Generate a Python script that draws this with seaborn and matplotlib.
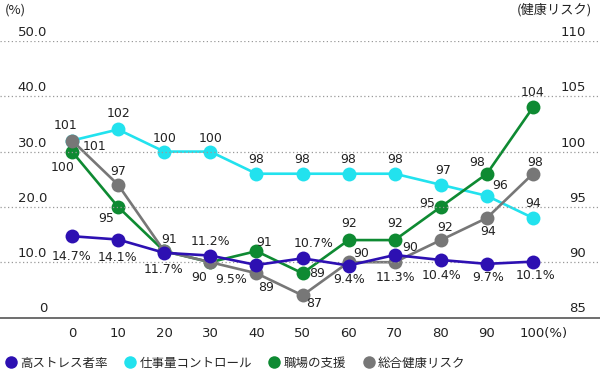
import matplotlib
matplotlib.use("Agg")
import matplotlib.pyplot as plt
import matplotlib.transforms as mtransforms
from matplotlib.lines import Line2D
import seaborn as sns
import pandas as pd

# data
x_vals = [0, 10, 20, 30, 40, 50, 60, 70, 80, 90, 100]
x_labels = ["0", "10", "20", "30", "40", "50", "60", "70", "80", "90", "100(%)"]

high_stress = [14.7, 14.1, 11.7, 11.2, 9.5, 10.7, 9.4, 11.3, 10.4, 9.7, 10.1]
workload = [101, 102, 100, 100, 98, 98, 98, 98, 97, 96, 94]
support = [100, 95, 91, 90, 91, 89, 92, 92, 95, 98, 104]
total_risk = [101, 97, 91, 90, 89, 87, 90, 90, 92, 94, 98]

series_names = ["高ストレス者率", "仕事量コントロール", "職場の支援", "総合健康リスク"]
left_ticks = [0, 10, 20, 30, 40, 50]
right_ticks = [85, 90, 95, 100, 105, 110]

colors = ["#2d10b2", "#22e2ee", "#0e8a32", "#777777"]

# label offsets in pixels (None = label not drawn, shared with another series)
off_stress = [(0, -20), (-1, -18), (-1, -17), (0, 14), (-25, -15), (11, 15),
              (1, -14), (1, -22), (1, -16), (1, -14), (3, -14)]
off_work = [(-6, 15), (0, 16), (0, 13), (0, 13), (0, 14), (0, 14), (0, 14),
            (0, 14), (2, 14), (13, 10), (0, 14)]
off_support = [(-9, -16), (-12, -12), (5, 12), (-11, -15), (8, 9), (15, 0),
               (1, 17), (0, 17), (-14, 3), (-10, 11), (0, 15)]
off_total = [(23, -6), (0, 13), None, None, (10, -14), (12, -8), (13, 9),
             (15, 15), (4, 13), (1, -14), (2, 11)]

sns.set_theme(style="white")
plt.rcParams["font.family"] = ["Noto Sans CJK JP", "DejaVu Sans"]
num_font = ["DejaVu Sans"]
txt_color = "#222222"

fig = plt.figure(figsize=(6.0, 3.73), dpi=100)
ax = fig.add_axes([0.0, 1 - 317.5 / 373, 1.0, (317.5 - 41) / 373])
ax2 = ax.twinx()

df_l = pd.DataFrame({"x": x_vals, "y": high_stress})
df_r = pd.DataFrame({"x": x_vals, "work": workload, "support": support, "total": total_risk})

lw = 1.9
ms = 10
sns.lineplot(data=df_r, x="x", y="work", ax=ax2, color=colors[1], marker="o",
             markersize=ms, markeredgewidth=0, linewidth=lw)
sns.lineplot(data=df_r, x="x", y="support", ax=ax2, color=colors[2], marker="o",
             markersize=ms, markeredgewidth=0, linewidth=lw)
sns.lineplot(data=df_r, x="x", y="total", ax=ax2, color=colors[3], marker="o",
             markersize=ms, markeredgewidth=0, linewidth=lw)
sns.lineplot(data=df_l, x="x", y="y", ax=ax, color=colors[0], marker="o",
             markersize=ms, markeredgewidth=0, linewidth=lw)

# percent axis drawn over the index axis
ax.set_zorder(ax2.get_zorder() + 1)
ax.patch.set_visible(False)

x_left = -72 / 4.61
x_right = (600 - 72) / 4.61
for a in (ax, ax2):
    a.set_xlim(x_left, x_right)
    a.set_xlabel("")
    a.set_ylabel("")
    for s in a.spines.values():
        s.set_visible(False)
ax.set_ylim(0, 50)
ax2.set_ylim(85, 110)

ax.spines["bottom"].set_visible(True)
ax.spines["bottom"].set_color("#555555")
ax.spines["bottom"].set_linewidth(1.2)

# dotted grid lines
for v in left_ticks[1:]:
    ax.axhline(v, color="#999999", linestyle=(0, (1, 2)), linewidth=0.9, zorder=0)

ax.set_yticks([])
ax2.set_yticks([])
ax.set_xticks(x_vals)
ax.set_xticklabels(x_labels, fontsize=9.5, color=txt_color, family=num_font)
ax.tick_params(axis="x", length=0, pad=7)
lbls = ax.get_xticklabels()
lbls[-1].set_transform(lbls[-1].get_transform() + mtransforms.ScaledTranslation(11 / 100, 0, fig.dpi_scale_trans))

tl = mtransforms.blended_transform_factory(ax.transAxes, ax.transData)
for v in left_ticks:
    txt = "0" if v == 0 else f"{v:.1f}"
    ax.annotate(txt, (47 / 600, v), xycoords=tl, xytext=(0, 2), textcoords="offset pixels",
                ha="right", va="bottom", fontsize=9.5, color=txt_color, family=num_font)
tr = mtransforms.blended_transform_factory(ax2.transAxes, ax2.transData)
for v in right_ticks:
    ax2.annotate(str(v), (586 / 600, v), xycoords=tr, xytext=(0, 2), textcoords="offset pixels",
                 ha="right", va="bottom", fontsize=9.5, color=txt_color, family=num_font)

fig.text(5 / 600, 1 - 10 / 373, "(%)", ha="left", va="center", fontsize=9.5, color=txt_color)
fig.text(592 / 600, 1 - 10 / 373, "(健康リスク)", ha="right", va="center", fontsize=9.5, color=txt_color)

# data labels
def put_labels(a, ys, texts, offs):
    for xv, yv, t, o in zip(x_vals, ys, texts, offs):
        if o is None:
            continue
        a.annotate(t, (xv, yv), xytext=o, textcoords="offset pixels", ha="center",
                   va="center", fontsize=9, color=txt_color, zorder=10, family=num_font)

put_labels(ax, high_stress, [f"{v}%" for v in high_stress], off_stress)
put_labels(ax2, workload, [str(v) for v in workload], off_work)
put_labels(ax2, support, [str(v) for v in support], off_support)
put_labels(ax2, total_risk, [str(v) for v in total_risk], off_total)

handles = [Line2D([], [], marker="o", linestyle="none", color=c, markersize=9, markeredgewidth=0)
           for c in colors]
fig.legend(handles, series_names, loc="center left", bbox_to_anchor=(3 / 600, 1 - 363 / 373),
           ncol=4, frameon=False, handletextpad=0.15, columnspacing=1.2, borderpad=0,
           borderaxespad=0, handlelength=1.2, fontsize=9)

fig.savefig("out.png", dpi=100)
